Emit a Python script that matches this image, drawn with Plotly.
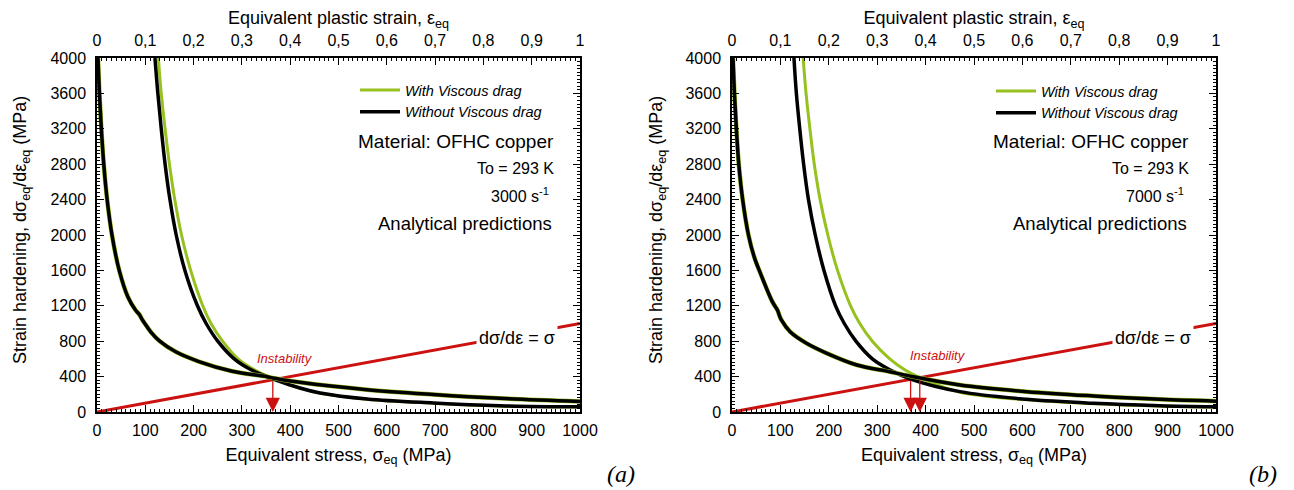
import plotly.graph_objects as go

# ---------------- data ----------------
# Panel (a): 3000 1/s
a_strain = [0.002, 0.005, 0.009, 0.014, 0.021, 0.031, 0.046, 0.064, 0.080, 0.088, 0.093, 0.099,
            0.112, 0.130, 0.163, 0.211, 0.280, 0.352, 0.364, 0.420, 0.559, 0.696, 0.834, 1.0]
a_hard_strain = [4000, 3600, 3200, 2800, 2400, 2000, 1600, 1300, 1150, 1100, 1050, 1000,
                 900, 800, 680, 570, 460, 399, 384, 335, 252, 198, 155, 120]

a_stress_wo = [120, 126, 133, 141, 151, 164, 182, 208, 226, 250, 284, 318, 365, 420, 462, 559, 696, 834, 1000]
a_hard_wo = [4000, 3600, 3200, 2800, 2400, 2000, 1600, 1200, 1000, 800, 600, 480, 372, 271, 215, 147, 102, 71, 58]

a_stress_w = [127, 133, 141, 150, 161, 175, 194, 219, 236, 260, 292, 325, 366, 420, 462, 559, 696, 834, 1000]
a_hard_w = [4000, 3600, 3200, 2800, 2400, 2000, 1600, 1200, 1000, 800, 600, 480, 374, 268, 212, 145, 100, 69, 56]

# Panel (b): 7000 1/s
b_strain = [0.002, 0.005, 0.009, 0.014, 0.022, 0.034, 0.046, 0.060, 0.083, 0.094, 0.098, 0.102, 0.120,
            0.154, 0.196, 0.258, 0.326, 0.375, 0.471, 0.609, 0.747, 0.884, 1.0]
b_hard_strain = [4000, 3600, 3200, 2800, 2400, 2000, 1750, 1550, 1250, 1150, 1090, 1040, 907,
                 776, 663, 531, 455, 399, 305, 230, 181, 143, 122]

b_stress_wo = [128, 133, 140, 148, 158, 172, 190, 214, 232, 256, 290, 325, 369, 471, 609, 747, 884, 1000]
b_hard_wo = [4000, 3600, 3200, 2800, 2400, 2000, 1600, 1200, 1000, 800, 600, 480, 372, 230, 143, 98, 72, 60]

b_stress_w = [147, 153, 161, 170, 182, 198, 218, 245, 264, 290, 326, 356, 388, 471, 609, 747, 884, 1000]
b_hard_w = [4000, 3600, 3200, 2800, 2400, 2000, 1600, 1200, 1000, 800, 600, 480, 388, 222, 138, 94, 68, 56]

# Instability criterion d(sigma)/d(eps) = sigma
crit_stress = [0, 1000]
crit_hard = [0, 1000]

a_instab = [364]
b_instab = [369, 388]

rates = ["3000", "7000"]
panel_labels = ["(a)", "(b)"]

# ---------------- styling ----------------
GREEN = "#96c11e"
BLACK = "#000000"
RED = "#cc1111"
FONT = "Liberation Sans, Arial, sans-serif"
SERIF = "Liberation Serif, Times New Roman, serif"

# page offset of the figure (default body margin) -> work in page pixels
OFF = 8
W, H = 1294 - OFF, 490 - OFF
L, R, T, B = 97 - OFF, 1216 - OFF, 58 - OFF, 412 - OFF
PW, PH = R - L, B - T


def xp(px):
    return (px - OFF - L) / PW


def yp(py):
    return (B - (py - OFF)) / PH


fig = go.Figure()

panels = [
    dict(xs="x", xt="x3", y="y", leg="legend",
         strain=a_strain, hs=a_hard_strain,
         swo=a_stress_wo, hwo=a_hard_wo, sw=a_stress_w, hw=a_hard_w, inst=a_instab),
    dict(xs="x2", xt="x4", y="y2", leg="legend2",
         strain=b_strain, hs=b_hard_strain,
         swo=b_stress_wo, hwo=b_hard_wo, sw=b_stress_w, hw=b_hard_w, inst=b_instab),
]

SM = 1.0
for p in panels:
    fig.add_trace(go.Scatter(x=crit_stress, y=crit_hard, mode="lines",
                             line=dict(color=RED, width=3), xaxis=p["xs"], yaxis=p["y"],
                             showlegend=False, hoverinfo="skip"))
    fig.add_trace(go.Scatter(x=p["strain"], y=p["hs"], mode="lines",
                             line=dict(color=GREEN, width=4.5, shape="spline", smoothing=SM),
                             xaxis=p["xt"], yaxis=p["y"], showlegend=False))
    fig.add_trace(go.Scatter(x=p["sw"], y=p["hw"], mode="lines", name="With Viscous drag",
                             line=dict(color=GREEN, width=3, shape="spline", smoothing=SM),
                             xaxis=p["xs"], yaxis=p["y"], legend=p["leg"], showlegend=True))
    fig.add_trace(go.Scatter(x=p["strain"], y=p["hs"], mode="lines",
                             line=dict(color=BLACK, width=3.5, shape="spline", smoothing=SM),
                             xaxis=p["xt"], yaxis=p["y"], showlegend=False))
    fig.add_trace(go.Scatter(x=p["swo"], y=p["hwo"], mode="lines", name="Without Viscous drag",
                             line=dict(color=BLACK, width=3.5, shape="spline", smoothing=SM),
                             xaxis=p["xs"], yaxis=p["y"], legend=p["leg"], showlegend=True))

# ---------------- axes ----------------
xdomA = [0, xp(580)]
xdomB = [xp(732), 1]
ydom = [0, 1]

tickfont = dict(family=FONT, size=16, color="black")
titlefont = dict(family=FONT, size=18, color="black")


def xbottom(dom, anchor):
    return dict(domain=dom, anchor=anchor, range=[0, 1000], dtick=100, tick0=0,
                ticks="inside", ticklen=7, tickwidth=1, tickcolor="black",
                minor=dict(dtick=10, ticks="inside", ticklen=3, tickcolor="black", tickwidth=1),
                showline=True, linecolor="black", linewidth=1.5, showgrid=False, zeroline=False,
                tickfont=tickfont, ticklabelstandoff=3, automargin=False,
                title=dict(text="Equivalent stress, σ<sub>eq</sub> (MPa)", font=titlefont, standoff=10))


def xtop(overlay, anchor):
    return dict(overlaying=overlay, anchor=anchor, side="top", range=[0, 1], dtick=0.1, tick0=0,
                ticks="inside", ticklen=7, tickwidth=1, tickcolor="black",
                minor=dict(dtick=0.01, ticks="inside", ticklen=3, tickcolor="black", tickwidth=1),
                showline=True, linecolor="black", linewidth=1.5, showgrid=False, zeroline=False,
                tickfont=tickfont, ticklabelstandoff=4, automargin=False,
                title=dict(text="Equivalent plastic strain, ε<sub>eq</sub>", font=titlefont, standoff=10))


def yleft(anchor):
    return dict(domain=ydom, anchor=anchor, range=[0, 4000], dtick=400, tick0=0,
                ticks="inside", ticklen=7, tickwidth=1, tickcolor="black",
                minor=dict(dtick=40, ticks="inside", ticklen=3, tickcolor="black", tickwidth=1),
                showline=True, linecolor="black", linewidth=1.5, mirror="ticks",
                showgrid=False, zeroline=False, tickfont=tickfont, ticklabelstandoff=6,
                automargin=False)


fig.update_layout(
    width=W, height=H,
    margin=dict(l=L, r=W - R, t=T, b=H - B, autoexpand=False),
    paper_bgcolor="white", plot_bgcolor="white",
    separators=", ",
    font=dict(family=FONT, color="black"),
    xaxis=xbottom(xdomA, "y"),
    xaxis2=xbottom(xdomB, "y2"),
    xaxis3=xtop("x", "y"),
    xaxis4=xtop("x2", "y2"),
    yaxis=yleft("x"),
    yaxis2=yleft("x2"),
    legend=dict(x=xp(355), y=yp(74), xanchor="left", yanchor="top",
                bgcolor="rgba(0,0,0,0)", font=dict(family=FONT, size=14.5, style="italic"),
                tracegroupgap=0, itemwidth=40),
    legend2=dict(x=xp(991), y=yp(75), xanchor="left", yanchor="top",
                 bgcolor="rgba(0,0,0,0)", font=dict(family=FONT, size=14.5, style="italic"),
                 tracegroupgap=0, itemwidth=40),
    showlegend=True,
)

# ---------------- annotations ----------------
ytitle = "Strain hardening, dσ<sub>eq</sub>/dε<sub>eq</sub> (MPa)"
for x in [21, 657]:
    fig.add_annotation(text=ytitle, x=xp(x), y=yp(230), xref="paper", yref="paper",
                       textangle=-90, showarrow=False, xanchor="center", yanchor="middle",
                       font=titlefont)

info_right = [556, 1191]
for i, rate in enumerate(rates):
    xr = info_right[i]
    items = [
        ("Material: OFHC copper", xr, 141, 19),
        ("To = 293 K", xr, 168, 16),
        (f"{rate} s<sup>-1</sup>", xr - 5, 195, 16),
        ("Analytical predictions", xr - 2, 223, 18.5),
    ]
    for text, x, y, size in items:
        fig.add_annotation(text=text, x=xp(x), y=yp(y), xref="paper", yref="paper",
                           xanchor="right", yanchor="middle", showarrow=False,
                           font=dict(family=FONT, size=size, color="black"))

for p, inst, lbl_pos in [(panels[0], a_instab, (389, 610)), (panels[1], b_instab, (426, 644))]:
    xs, ys = p["xs"], p["y"]
    fig.add_annotation(text="dσ/dε = σ", x=870, y=840, xref=xs, yref=ys, showarrow=False,
                       bgcolor="white", borderpad=2,
                       font=dict(family=FONT, size=18, color="black"))
    fig.add_annotation(text="Instability", x=lbl_pos[0], y=lbl_pos[1], xref=xs, yref=ys,
                       showarrow=False, font=dict(family=FONT, size=13, color=RED, style="italic"))
    for s in inst:
        fig.add_annotation(x=s, y=0, ax=s, ay=s, xref=xs, yref=ys, axref=xs, ayref=ys,
                           text="", showarrow=True, arrowhead=2, arrowsize=2.2,
                           arrowwidth=1.3, arrowcolor=RED, standoff=0)

for lbl, x in zip(panel_labels, [621, 1263]):
    fig.add_annotation(text=lbl, x=xp(x), y=yp(474), xref="paper", yref="paper",
                       showarrow=False, xanchor="center", yanchor="middle",
                       font=dict(family=SERIF, size=24, color="black", style="italic"))

fig.write_html("out.html")
